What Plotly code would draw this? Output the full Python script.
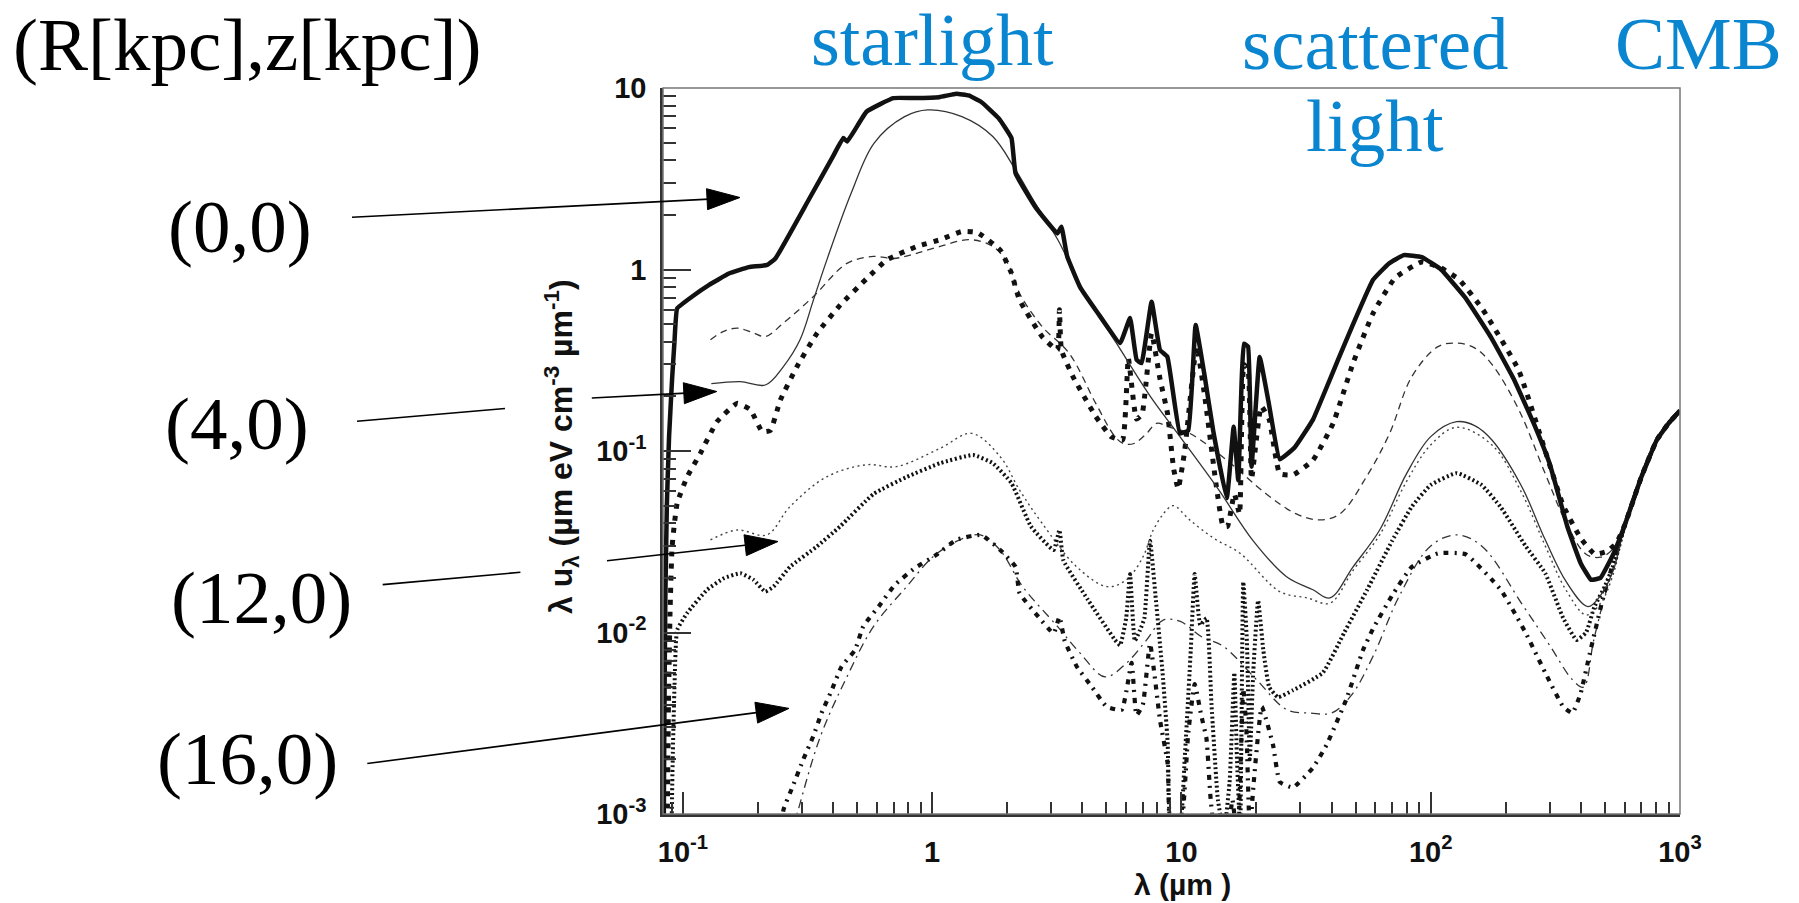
import math
import plotly.graph_objects as go

# ---------------- data ----------------
# shared CMB tail (all positions converge here)
cmb_lam = [600, 700, 807, 900, 1000]
cmb_val = [0.039, 0.072, 0.115, 0.142, 0.167]

# (0,0) new model : thick solid
lam_00_new = [0.0836, 0.0842, 0.0850, 0.0862, 0.0880, 0.0905, 0.0925, 0.0948, 0.109, 0.127, 0.153, 0.184,
              0.2175, 0.235, 0.32, 0.40, 0.44, 0.456, 0.545, 0.698, 0.85, 1.066, 1.25, 1.40, 1.57, 1.85,
              2.08, 2.16, 2.6, 3.18, 3.3, 3.48, 3.92, 4.6, 5.67, 6.22, 6.61, 6.92, 7.59, 8.2, 8.78, 9.86,
              10.65, 11.4, 12.4, 13.4, 15.2, 16.2, 16.9, 17.8, 18.5, 19.1, 20.6, 22.3, 24.8, 28.5, 33.7,
              39.5, 45.9, 58.7, 68, 78, 92, 110, 137.6, 175, 215, 260, 300, 354, 400, 440, 480, 540]
val_00_new = [0.0005, 0.003, 0.015, 0.05, 0.12, 0.25, 0.4, 0.61, 0.71, 0.82, 0.95, 1.03,
              1.06, 1.15, 2.43, 4.2, 5.3, 5.07, 7.4, 8.8, 8.8, 8.9, 9.3, 9.1, 8.4, 6.8,
              5.3, 3.39, 2.2, 1.58, 1.72, 1.18, 0.8, 0.58, 0.393, 0.54, 0.318, 0.305, 0.665, 0.36, 0.33, 0.125,
              0.13, 0.495, 0.257, 0.13, 0.055, 0.136, 0.069, 0.39, 0.376, 0.082, 0.33, 0.19, 0.09, 0.105, 0.149,
              0.25, 0.41, 0.877, 1.08, 1.2, 1.17, 1.0, 0.70, 0.42, 0.25, 0.14, 0.085, 0.038, 0.024, 0.0195, 0.02, 0.027]

# (0,0) old model : thin solid
lam_00_old = [0.13, 0.17, 0.214, 0.253, 0.295, 0.334, 0.378, 0.473, 0.585, 0.775, 0.96, 1.316, 1.75, 2.16,
              2.6, 3.2, 4.0, 5.5, 7.5, 9.86, 14, 19.4, 26.4, 33.7, 39.4, 48.8, 62.4, 80, 100, 127, 150,
              176, 230, 288, 350, 427, 480, 540]
val_00_old = [0.235, 0.241, 0.231, 0.292, 0.41, 0.68, 1.13, 2.63, 4.97, 6.95, 7.57, 6.95, 5.4, 3.54,
              2.3, 1.45, 0.78, 0.39, 0.2, 0.12, 0.062, 0.032, 0.0203, 0.0172, 0.0155, 0.023, 0.0367, 0.075, 0.12, 0.145, 0.138,
              0.115, 0.065, 0.0324, 0.019, 0.0139, 0.016, 0.022]

# (4,0) new model : thick dotted (square dots)
lam_40_new = [0.0862, 0.0875, 0.0888, 0.0905, 0.0948, 0.104, 0.1175, 0.137, 0.165, 0.1865, 0.208, 0.2245,
              0.246, 0.287, 0.345, 0.428, 0.548, 0.658, 0.868, 1.077, 1.316, 1.517, 1.875, 2.08, 2.24, 2.76,
              3.18, 3.24, 3.3, 3.67, 4.53, 5.22, 5.8, 6.12, 6.6, 6.95, 7.59, 8.2, 8.8, 9.3, 9.7, 10.3, 11.5,
              12.4, 13.8, 14.7, 15.3, 16.3, 17.1, 17.8, 18.5, 19.1, 20.9, 22.5, 24.8, 28.1, 33.7, 40.6, 48.8,
              58.7, 72, 92, 110, 130, 162, 225, 288, 340, 400, 455, 510, 555]
val_40_new = [0.0005, 0.004, 0.013, 0.0297, 0.0515, 0.072, 0.097, 0.145, 0.183, 0.169, 0.128, 0.13,
              0.191, 0.292, 0.445, 0.638, 0.895, 1.13, 1.34, 1.46, 1.62, 1.60, 1.28, 0.954, 0.68, 0.427,
              0.36, 0.6, 0.36, 0.257, 0.155, 0.12, 0.115, 0.325, 0.15, 0.16, 0.445, 0.25, 0.16, 0.08, 0.062, 0.1, 0.376,
              0.2, 0.064, 0.0384, 0.0384, 0.058, 0.045, 0.3, 0.28, 0.07, 0.176, 0.149, 0.075, 0.074, 0.089, 0.142, 0.305,
              0.574, 0.9, 1.1, 1.02, 0.88, 0.6, 0.28, 0.1, 0.05, 0.033, 0.027, 0.028, 0.031]

# (4,0) old model : thin dashed
lam_40_old = [0.129, 0.145, 0.165, 0.19, 0.214, 0.253, 0.334, 0.455, 0.582, 0.7, 0.85, 1.077, 1.41, 1.75,
              2.01, 2.24, 2.76, 3.54, 4.53, 5.41, 5.85, 6.45, 7.25, 7.94, 9.0, 10.8, 15.2, 21.9, 28.9, 35.9,
              43.2, 55.2, 68.4, 84, 107, 127, 150, 176, 225, 288, 350, 420, 480, 540]
val_40_old = [0.41, 0.455, 0.475, 0.45, 0.427, 0.507, 0.71, 1.08, 1.18, 1.15, 1.22, 1.34, 1.46, 1.34,
              1.08, 0.74, 0.485, 0.346, 0.183, 0.12, 0.11, 0.11, 0.125, 0.142, 0.135, 0.125, 0.089, 0.058, 0.045, 0.0417,
              0.045, 0.072, 0.125, 0.257, 0.376, 0.393, 0.37, 0.3, 0.17, 0.075, 0.04, 0.027, 0.026, 0.029]

# (12,0) new model : thick fine-dotted
lam_120_new = [0.0895, 0.091, 0.0925, 0.0948, 0.104, 0.125, 0.146, 0.17, 0.192, 0.214, 0.231, 0.269, 0.344,
               0.427, 0.582, 0.791, 1.077, 1.46, 1.75, 2.08, 2.49, 3.07, 3.24, 3.36, 4.22, 5.41, 5.67, 6.0,
               6.22, 6.5, 6.82, 7.1, 7.48, 7.9, 8.4, 8.8, 9.1, 9.8, 10.3, 10.9, 11.3, 11.9, 12.6, 13.2, 14.0,
               14.8, 15.6, 16.3, 16.7, 17.2, 17.7, 18.3, 18.8, 19.4, 20.3, 21.3, 22.5, 24.4, 28, 36.9, 45,
               55.6, 70, 84, 100, 127, 160, 191, 240, 288, 340, 385, 420, 454, 500, 550]
val_120_new = [0.0005, 0.002, 0.005, 0.0103, 0.0128, 0.0172, 0.0199, 0.0212, 0.0195, 0.0168, 0.0179, 0.023, 0.0297,
               0.0384, 0.058, 0.072, 0.0857, 0.095, 0.0857, 0.0665, 0.0384, 0.0285, 0.0367, 0.025, 0.0151, 0.0091, 0.0085, 0.012,
               0.021, 0.009, 0.0103, 0.012, 0.032, 0.015, 0.006, 0.0025, 0.0008, 0.0008, 0.002, 0.008, 0.021, 0.011, 0.012, 0.004, 0.0012,
               0.0008, 0.0015, 0.006, 0.002, 0.0008, 0.019, 0.009, 0.002, 0.006, 0.015, 0.008, 0.005, 0.0044, 0.0048, 0.006, 0.01,
               0.0172, 0.032, 0.0494, 0.065, 0.0755, 0.065, 0.049, 0.03, 0.0212, 0.012, 0.0091, 0.01, 0.0139, 0.018, 0.025]

# (12,0) old model : thin dotted
lam_120_old = [0.129, 0.165, 0.217, 0.269, 0.377, 0.545, 0.718, 1.077, 1.44, 1.875, 2.24, 2.76, 3.8, 5.04,
               6.01, 7.0, 7.71, 8.73, 9.3, 10.8, 13.5, 17.2, 24.8, 32, 39.4, 48.8, 62.4, 80, 100, 127, 176,
               230, 288, 350, 420, 480, 540]
val_120_old = [0.0324, 0.0367, 0.0345, 0.0494, 0.072, 0.084, 0.082, 0.1035, 0.125, 0.093, 0.061, 0.04, 0.023, 0.0179,
               0.0195, 0.026, 0.0367, 0.0474, 0.05, 0.0417, 0.033, 0.0273, 0.0168, 0.0155, 0.0145, 0.022, 0.0345, 0.068, 0.108, 0.135, 0.108,
               0.06, 0.03, 0.017, 0.0125, 0.0145, 0.021]

# (16,0) new model : thick dash-dot
lam_160_new = [0.245, 0.253, 0.277, 0.304, 0.333, 0.36, 0.395, 0.433, 0.49, 0.529, 0.617, 0.708, 0.851, 1.04,
               1.25, 1.57, 1.875, 2.16, 2.24, 2.67, 3.07, 3.24, 3.4, 3.8, 4.38, 5.01, 5.76, 6.31, 6.6, 7.0,
               7.48, 8.2, 8.8, 9.1, 9.8, 10.65, 11.3, 12.0, 12.6, 13.1, 14.0, 15.0, 16.0, 16.8, 17.7, 18.2,
               18.8, 19.5, 21, 23.3, 24.8, 28, 33.7, 38.2, 45.9, 53.5, 58.7, 70, 84, 107, 138, 191, 240, 288,
               340, 370, 399, 435, 493, 557]
val_160_new = [0.0005, 0.00105, 0.00144, 0.002, 0.00267, 0.0036, 0.0048, 0.0065, 0.008, 0.0108, 0.0142, 0.0183, 0.0226, 0.0268,
               0.0324, 0.0345, 0.0285, 0.023, 0.0165, 0.0122, 0.0099, 0.0122, 0.009, 0.0065, 0.005, 0.0039, 0.00375, 0.0068, 0.0035, 0.004,
               0.0087, 0.0033, 0.0019, 0.0007, 0.0007, 0.0028, 0.0052, 0.0035, 0.0026, 0.0012, 0.0006, 0.0006, 0.0012, 0.0007, 0.0049, 0.003,
               0.0008, 0.0015, 0.0039, 0.0024, 0.0015, 0.0014, 0.0018, 0.0024, 0.0043, 0.008, 0.0105, 0.016, 0.023, 0.0273, 0.027, 0.0172, 0.01, 0.006,
               0.0039, 0.0036, 0.0046, 0.0077, 0.0158, 0.028]

# (16,0) old model : thin dash-dot
lam_160_old = [0.25, 0.287, 0.356, 0.455, 0.582, 0.79, 1.01, 1.29, 1.56, 1.87, 2.3, 3.18, 3.92, 4.94, 6.03,
               7.2, 8.45, 9.9, 12, 14.7, 20, 26.5, 33, 40, 48, 58.7, 75, 100, 127, 160, 235, 300, 370, 410,
               450, 500, 550]
val_160_old = [0.0005, 0.001, 0.00267, 0.0057, 0.0108, 0.0179, 0.0262, 0.0324, 0.0345, 0.0285, 0.018, 0.0108, 0.0077, 0.0057, 0.0068,
               0.009, 0.0117, 0.0115, 0.0095, 0.0084, 0.0055, 0.00375, 0.0036, 0.0036, 0.0045, 0.0074, 0.016, 0.03, 0.0345, 0.03, 0.014, 0.0085, 0.0055, 0.005,
               0.009, 0.016, 0.025]

# tick labels
x_tickvals = [0.1, 1, 10, 100, 1000]
x_ticktext = ["10<sup>-1</sup>", "1", "10", "10<sup>2</sup>", "10<sup>3</sup>"]
y_tickvals = [0.001, 0.01, 0.1, 1, 10]
y_ticktext = ["10<sup>-3</sup>", "10<sup>-2</sup>", "10<sup>-1</sup>", "1", "10"]

# ---------------- layout geometry ----------------
W, H = 1799, 903
L, R, T, B = 663, 119, 88, 89
PW = W - L - R
PH = H - T - B


def px(x):
    return (x - L) / PW


def py(y):
    return (H - B - y) / PH


fig = go.Figure()

series = [
    (lam_160_old, val_160_old, 1.3, "9px,5px,2px,5px", "#333", 1.0),
    (lam_160_new, val_160_new, 4.2, "5px,6px,2px,6px", "#111", 0.4),
    (lam_120_old, val_120_old, 1.4, "2px,3.5px", "#444", 1.0),
    (lam_120_new, val_120_new, 4.0, "2px,2.6px", "#111", 0.4),
    (lam_40_old, val_40_old, 1.3, "7px,5px", "#333", 1.0),
    (lam_40_new, val_40_new, 5.0, "5px,7px", "#111", 0.4),
    (lam_00_old, val_00_old, 1.3, "solid", "#333", 1.0),
    (lam_00_new, val_00_new, 4.5, "solid", "#111", 0.3),
]
for lam, val, w, dash, col, sm in series:
    fig.add_trace(go.Scatter(
        x=list(lam) + cmb_lam, y=list(val) + cmb_val, mode="lines",
        line=dict(color=col, width=w, dash=dash, shape="spline", smoothing=sm),
        showlegend=False, hoverinfo="skip"))

minor_x = [m * 10 ** e for e in range(-2, 3) for m in range(2, 10) if 0.083 < m * 10 ** e < 1000]
minor_y = [m * 10 ** e for e in range(-3, 1) for m in range(2, 10)]

axis_font = dict(family="Liberation Sans, Arial", size=29, color="#111", weight="bold")

fig.update_xaxes(type="log", range=[math.log10(0.0832), 3], tickvals=x_tickvals, ticktext=x_ticktext,
                 ticks="inside", ticklen=22, tickwidth=2, tickcolor="#333", showline=True, linewidth=2.5,
                 linecolor="#333", mirror=False, showgrid=False, zeroline=False, tickfont=axis_font,
                 ticklabelstandoff=10, automargin=False,
                 minor=dict(tickvals=minor_x, ticks="inside", ticklen=12, tickwidth=1.5, tickcolor="#333", showgrid=False))
fig.update_yaxes(type="log", range=[-3, 1], tickvals=y_tickvals, ticktext=y_ticktext,
                 ticks="inside", ticklen=28, tickwidth=2, tickcolor="#333", showline=True, linewidth=2.5,
                 linecolor="#333", mirror=False, showgrid=False, zeroline=False, tickfont=axis_font,
                 ticklabelstandoff=8, automargin=False,
                 minor=dict(tickvals=minor_y, ticks="inside", ticklen=13, tickwidth=1.5, tickcolor="#333", showgrid=False))

shapes = [dict(type="rect", xref="paper", yref="paper", x0=0, x1=1, y0=0, y1=1,
               line=dict(color="#777", width=1.5), layer="above")]


def arrow(segments, tip):
    out = []
    (sx, sy) = segments[-1][0]
    tx, ty = tip
    dx, dy = tx - sx, ty - sy
    n = math.hypot(dx, dy)
    ux, uy = dx / n, dy / n
    hl, hw = 33, 10.5
    bx, by = tx - ux * hl, ty - uy * hl
    for i, (a, b) in enumerate(segments):
        if i == len(segments) - 1:
            b = (bx + ux * 2, by + uy * 2)
        out.append(dict(type="line", xref="paper", yref="paper", x0=px(a[0]), y0=py(a[1]),
                        x1=px(b[0]), y1=py(b[1]), line=dict(color="black", width=1.6), layer="above"))
    p1 = (bx - uy * hw, by + ux * hw)
    p2 = (bx + uy * hw, by - ux * hw)
    path = "M {} {} L {} {} L {} {} Z".format(px(tx), py(ty), px(p1[0]), py(p1[1]), px(p2[0]), py(p2[1]))
    out.append(dict(type="path", xref="paper", yref="paper", path=path, fillcolor="black",
                    line=dict(color="black", width=1), layer="above"))
    return out


shapes += arrow([((352, 217.3), None)], (740, 197.5))
shapes += arrow([((357, 421.2), (505, 408.5)), ((591.8, 398), None)], (716.8, 391.5))
shapes += arrow([((382.7, 584.6), (520.4, 572.3)), ((607, 560.8), None)], (778, 541.5))
shapes += arrow([((367.3, 763.5), None)], (789, 708.4))

serif = "Liberation Serif, Times New Roman, serif"
blue = "#0a85d0"
annots = []


def label(text, x, y, color="black", size=75):
    annots.append(dict(text=text, x=px(x), y=py(y), xref="paper", yref="paper", showarrow=False,
                       xanchor="center", yanchor="middle", font=dict(family=serif, size=size, color=color)))


label("(R[kpc],z[kpc])", 247, 44)
label("(0,0)", 240, 226)
label("(4,0)", 237, 423)
label("(12,0)", 261, 597)
label("(16,0)", 247, 758)
label("starlight", 932, 40, blue, 74)
label("scattered", 1375, 43, blue)
label("light", 1375, 125, blue)
label("CMB", 1698, 43, blue)

annots.append(dict(text="λ u<sub>λ</sub> (µm eV cm<sup>-3</sup> µm<sup>-1</sup>)", x=px(561), y=py(447),
                   xref="paper", yref="paper", showarrow=False, textangle=-90, xanchor="center", yanchor="middle",
                   font=dict(family="Liberation Sans, Arial", size=32, color="#111", weight="bold")))
annots.append(dict(text="λ (µm )", x=px(1182), y=py(884), xref="paper", yref="paper", showarrow=False,
                   xanchor="center", yanchor="middle",
                   font=dict(family="Liberation Sans, Arial", size=30, color="#111", weight="bold")))

fig.update_layout(width=W, height=H, margin=dict(l=L, r=R, t=T, b=B, autoexpand=False),
                  paper_bgcolor="white", plot_bgcolor="white", shapes=shapes, annotations=annots,
                  showlegend=False)

fig.write_html("out.html")
